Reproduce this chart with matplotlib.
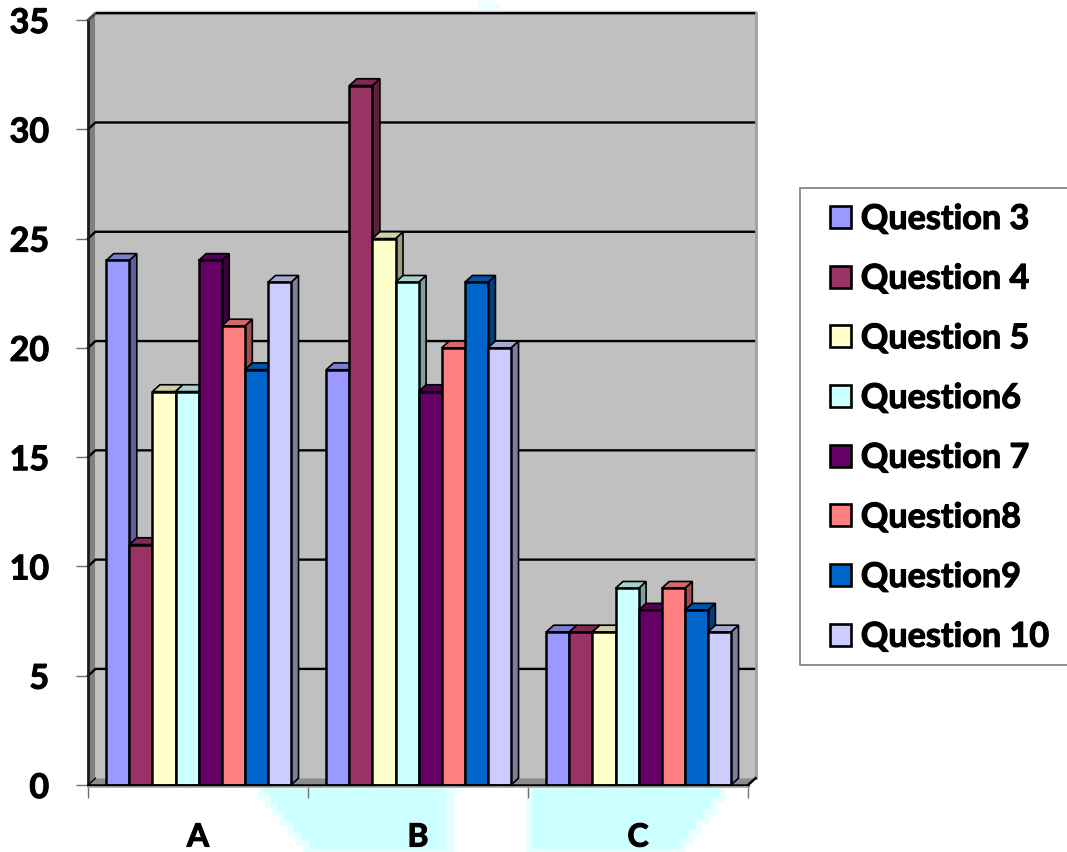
import matplotlib
matplotlib.use("Agg")
import matplotlib.pyplot as plt
from matplotlib.patches import Polygon, Rectangle, Patch
from matplotlib.transforms import Affine2D, ScaledTranslation
import matplotlib.patheffects as pe

plt.rcParams['font.family'] = ['Lato', 'DejaVu Sans']
plt.rcParams['font.weight'] = 'bold'

categories = ['A', 'B', 'C']
series_names = ['Question 3', 'Question 4', 'Question 5', 'Question6',
                'Question 7', 'Question8', 'Question9', 'Question 10']
q3 = [24, 19, 7]
q4 = [11, 32, 7]
q5 = [18, 25, 7]
q6 = [18, 23, 9]
q7 = [24, 18, 8]
q8 = [21, 20, 9]
q9 = [19, 23, 8]
q10 = [23, 20, 7]
series_values = [q3, q4, q5, q6, q7, q8, q9, q10]
colors = ['#9999FF', '#993366', '#FFFFCC', '#CCFFFF',
          '#660066', '#FF8080', '#0066CC', '#CCCCFF']
y_ticks = [0, 5, 10, 15, 20, 25, 30, 35]

W, H = 1067, 852
fig = plt.figure(figsize=(W / 100, H / 100), dpi=100, facecolor='white')
L, R, T, B = 88, 748, 20, 785
ax = fig.add_axes([L / W, 1 - B / H, (R - L) / W, (B - T) / H])
ax.set_xlim(0, 3)
ax.set_ylim(0, 35)
ax.patch.set_visible(False)
for s in ax.spines.values():
    s.set_visible(False)

dx = 7.5 / 220     # depth of the 3D effect in category units
dy = 6.8 / (765 / 35)  # depth in value units
bar_w = 23.1 / 220
group_pad = 18.2 / 220

px = Affine2D().scale(1, -1).translate(0, H)  # pixel coords, y down
heavy = [pe.withStroke(linewidth=0.8, foreground='black')]


def shade(c, f):
    r, g, b = matplotlib.colors.to_rgb(c)
    return (r * f, g * f, b * f)


# stray pale background blotches of the source picture
blotch = '#CCFFFF'
left_blotch = [(260, 786), (260, 796), (268, 796), (268, 806), (275, 806), (275, 814),
               (282, 814), (282, 824), (290, 824), (290, 834), (298, 834), (298, 843),
               (306, 843), (306, 852), (449, 852), (449, 786)]
right_blotch = [(529, 786), (529, 852), (683, 852), (683, 842), (691, 842), (691, 832),
                (699, 832), (699, 822), (706, 822), (706, 812), (714, 812), (714, 800),
                (723, 800), (723, 786)]
fig.add_artist(Polygon([(449, 786), (449, 852), (455, 852), (455, 786)], closed=True,
                       transform=px, fc='#E8FFFF', ec='none', zorder=0))
for poly in (left_blotch, right_blotch):
    fig.add_artist(Polygon(poly, closed=True, transform=px, fc=blotch, ec='#E8FFFF',
                           lw=4, zorder=0))
fig.add_artist(Polygon([(477, 0), (477, 12), (500, 12), (500, 6), (492, 0)], closed=True,
                       transform=px, fc='#EFFFFF', ec='none', zorder=0))

# walls and floor
ax.add_patch(Polygon([(0 + dx, dy), (3 + dx, dy), (3 + dx, 35 + dy), (dx, 35 + dy)],
                     fc='#C0C0C0', ec='none', zorder=1, clip_on=False))
ax.add_patch(Polygon([(0, 0), (dx, dy), (dx, 35 + dy), (0, 35)],
                     fc='#808080', ec='none', zorder=1.1, clip_on=False))
ax.add_patch(Polygon([(0, 0), (3, 0), (3 + dx, dy), (dx, dy)],
                     fc='#8C8C8C', ec='none', zorder=1.1, clip_on=False))

# gridlines on the walls
for v in y_ticks[1:]:
    ax.plot([0, dx, 3 + dx], [v, v + dy, v + dy], color='black', lw=1.7,
            solid_joinstyle='miter', zorder=2, clip_on=False)
ax.plot([3 + dx, 3 + dx], [0 + dy, 35 + dy], color='#A0A0A0', lw=2, zorder=2.5, clip_on=False)
ax.plot([dx, 3 + dx], [35 + dy + 0.09] * 2, color='#C8C8C8', lw=1, zorder=1.9, clip_on=False)

# axis frame lines
ax.plot([0, 0], [0, 35], color='#1a1a1a', lw=2, zorder=2.6, clip_on=False)
ax.plot([0, dx], [35, 35 + dy], color='#555555', lw=1.2, zorder=2.6, clip_on=False)
ax.plot([0, dx], [0, dy], color='black', lw=1, zorder=2.6, clip_on=False)
ax.plot([3, 3 + dx], [0, dy], color='black', lw=1.8, zorder=2.6, clip_on=False)

# bars, painted left to right so each front hides its neighbour's side
z = 3.0
for g in range(len(categories)):
    for i, (vals, c) in enumerate(zip(series_values, colors)):
        x0 = g + group_pad + i * bar_w
        x1 = x0 + bar_w
        h = vals[g]
        ax.add_patch(Polygon([(x1, 0), (x1 + dx, dy), (x1 + dx, h + dy), (x1, h)],
                             fc=shade(c, 0.62), ec='black', lw=1.2, zorder=z,
                             joinstyle='miter', clip_on=False))
        ax.add_patch(Polygon([(x0, h), (x1, h), (x1 + dx, h + dy), (x0 + dx, h + dy)],
                             fc=shade(c, 0.82), ec='black', lw=1.2, zorder=z,
                             joinstyle='miter', clip_on=False))
        ax.add_patch(Rectangle((x0, 0), bar_w, h, fc=c, ec='black', lw=1.8, zorder=z + 0.01,
                               joinstyle='miter', clip_on=False))
        z += 0.1

ax.plot([0, 3], [0, 0], color='black', lw=1.8, zorder=z, clip_on=False)
ax.plot([0, 3], [-0.11, -0.11], color='#A8A8A8', lw=1.2, zorder=z, clip_on=False)

# ticks and labels
ax.set_yticks(y_ticks)
ax.set_yticklabels([str(v) for v in y_ticks], fontsize=24.5, fontweight='bold', color='black')
ax.tick_params(axis='y', length=9, width=1, color='#707070', pad=19)
shift_down = ScaledTranslation(0, -3 / 72 * 0.72, fig.dpi_scale_trans)
for lab in ax.get_yticklabels():
    lab.set_verticalalignment('center')
    lab.set_transform(lab.get_transform() + shift_down)
    lab.set_path_effects(heavy)
ax.set_xticks([0, 1, 2, 3])
ax.set_xticklabels([])
ax.tick_params(axis='x', which='major', length=9, width=1, color='#707070')
ax.set_xticks([0.5, 1.5, 2.5], minor=True)
ax.set_xticklabels(categories, minor=True, fontsize=23, fontweight='bold', color='black')
ax.tick_params(axis='x', which='minor', length=0, pad=27)
for lab in ax.get_xticklabels(minor=True):
    lab.set_path_effects(heavy)

# legend: frame runs off the right side of the picture
fig.add_artist(Rectangle((800, 188), 300, 477, transform=px, fc='white', ec='#707070', lw=1.1))
handles = [Patch(fc=c, ec='black', lw=1.9) for c in colors]
leg = fig.legend(handles, series_names, loc='upper left',
                 bbox_to_anchor=(830 / W, 1 - 203 / H), bbox_transform=fig.transFigure,
                 frameon=False, prop={'family': 'Lato', 'weight': 'bold', 'size': 24.6},
                 handlelength=0.61, handleheight=0.61, handletextpad=0.29,
                 labelspacing=0.81, borderpad=0, borderaxespad=0)
for t in leg.get_texts():
    t.set_path_effects(heavy)

fig.savefig('out.png', dpi=100)
